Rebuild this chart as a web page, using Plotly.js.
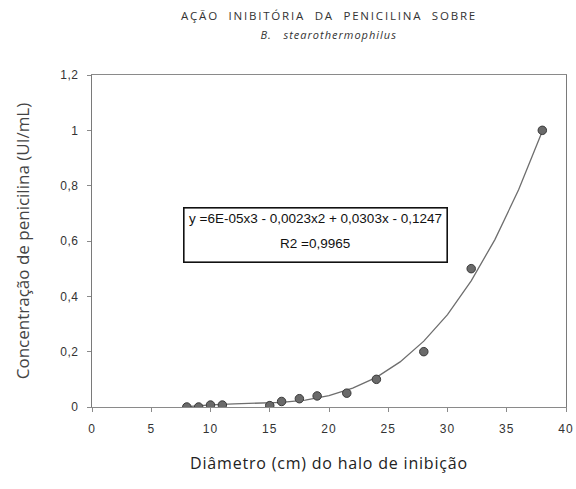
<!DOCTYPE html>
<html>
<head>
<meta charset="utf-8">
<script src="https://cdn.plot.ly/plotly-3.0.1.min.js"></script>
<style>
html,body{margin:0;padding:0;background:#fff}
#chart{width:576px;height:489px}
#chart .gtitle{letter-spacing:1.8px}
#chart .xtick text{letter-spacing:1px}
#chart .ytick text{letter-spacing:0.5px}
#chart .xtitle{letter-spacing:0.8px}
#chart .annotation[data-index="0"] text{letter-spacing:1px}
</style>
</head>
<body>
<div id="chart"></div>
<script>
// Data points
const diametro = [8, 9, 10, 11, 15, 16, 17.5, 19, 21.5, 24, 28, 32, 38];
const concentracao = [0, 0, 0.007, 0.007, 0.005, 0.02, 0.03, 0.04, 0.05, 0.1, 0.2, 0.5, 1.0];

// Trend line as drawn in the picture (read at several x positions)
const trendX = [8, 10, 12, 14, 16, 18, 20, 22, 24, 26, 28, 30, 32, 34, 36, 38];
const trendY = [0.001, 0.008, 0.011, 0.013, 0.017, 0.025, 0.041, 0.068, 0.107, 0.163, 0.238, 0.334, 0.456, 0.605, 0.785, 0.997];

const xTicks = [0, 5, 10, 15, 20, 25, 30, 35, 40];
const yTicks = [0, 0.2, 0.4, 0.6, 0.8, 1, 1.2];
const yTickText = ['0', '0,2', '0,4', '0,6', '0,8', '1', '1,2'];

const titleLine1 = "AÇÃO\u00a0\u00a0INIBITÓRIA\u00a0\u00a0DA\u00a0\u00a0PENICILINA\u00a0\u00a0SOBRE";
const titleLine2 = "B.\u00a0\u00a0\u00a0stearothermophilus";
const xTitle = "Diâmetro (cm) do halo de inibição";
const yTitle = "Concentração de penicilina (UI/mL)";
const eqLine1 = "y =6E-05x3 - 0,0023x2 + 0,0303x - 0,1247";
const eqLine2 = "R2 =0,9965";

const traces = [
  {
    x: trendX, y: trendY, type: 'scatter', mode: 'lines',
    line: {color: '#6e6e6e', width: 1.3}, hoverinfo: 'skip'
  },
  {
    x: diametro, y: concentracao, type: 'scatter', mode: 'markers',
    marker: {size: 8.5, color: '#6a6a6a', line: {color: '#3a3a3a', width: 1}}
  }
];

const eqFont = {family: 'Liberation Sans, Arial, sans-serif', size: 13.5, color: '#111'};

const layout = {
  width: 576, height: 489,
  margin: {l: 92, r: 10, t: 75, b: 82},
  paper_bgcolor: '#fff', plot_bgcolor: '#fff',
  showlegend: false,
  separators: ',.',
  font: {family: 'Liberation Sans, Arial, sans-serif', color: '#333'},
  xaxis: {
    range: [0, 40], tickvals: xTicks, ticktext: xTicks.map(String),
    showgrid: false, zeroline: false,
    showline: true, linecolor: '#8a8a8a', linewidth: 1, mirror: true,
    ticks: 'outside', ticklen: 4, tickcolor: '#8a8a8a', ticklabelstandoff: 7,
    tickfont: {size: 12, color: '#333'},
    title: {text: xTitle, standoff: 22, font: {family: 'Open Sans, sans-serif', size: 16, color: '#222'}}
  },
  yaxis: {
    range: [0, 1.2], tickvals: yTicks, ticktext: yTickText,
    showgrid: false, zeroline: false,
    showline: true, linecolor: '#7a7a7a', linewidth: 1.2, mirror: true,
    ticks: 'outside', ticklen: 4, tickcolor: '#8a8a8a', ticklabelstandoff: 6,
    tickfont: {size: 12, color: '#333'},
    title: {text: yTitle, standoff: 27, font: {family: 'Open Sans, sans-serif', size: 17, color: '#444'}}
  },
  title: {
    text: titleLine1, x: 0.5, xref: 'paper', xanchor: 'center',
    y: 1 - 12/489, yref: 'container', yanchor: 'top',
    font: {family: 'Open Sans, sans-serif', size: 11.5, color: '#333'}
  },
  annotations: [
    {
      text: '<i>' + titleLine2 + '</i>', xref: 'paper', yref: 'paper',
      x: 0.5, y: 1 + (75 - 34) / 332, xanchor: 'center', yanchor: 'middle',
      showarrow: false, font: {family: 'Open Sans, sans-serif', size: 11, color: '#333'}
    },
    {
      text: ' ', xref: 'paper', yref: 'paper', x: (315 - 92) / 474, y: (407 - 234.5) / 332,
      xanchor: 'center', yanchor: 'middle', showarrow: false,
      bordercolor: '#111', borderwidth: 1.6, borderpad: 0, bgcolor: 'rgba(255,255,255,0)',
      width: 262, height: 53, font: eqFont
    },
    {
      text: eqLine1, xref: 'paper', yref: 'paper', x: (315 - 92) / 474, y: (407 - 219) / 332,
      xanchor: 'center', yanchor: 'middle', showarrow: false, font: eqFont
    },
    {
      text: eqLine2, xref: 'paper', yref: 'paper', x: (315 - 92) / 474, y: (407 - 243) / 332,
      xanchor: 'center', yanchor: 'middle', showarrow: false, font: eqFont
    }
  ]
};

Plotly.newPlot('chart', traces, layout, {displayModeBar: false, staticPlot: true});
</script>
</body>
</html>
